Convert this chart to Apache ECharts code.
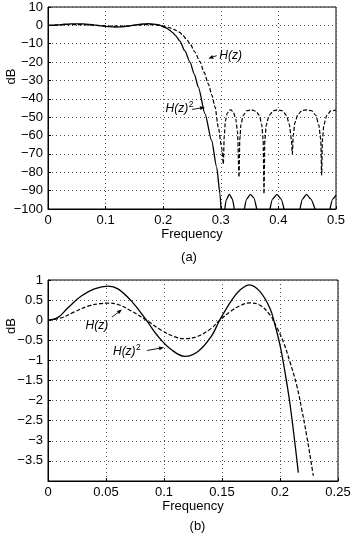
<!DOCTYPE html>
<html><head><meta charset="utf-8">
<script src="https://cdn.jsdelivr.net/npm/echarts@6/dist/echarts.min.js"></script>
<style>html,body{margin:0;padding:0;background:#fff}#c{width:355px;height:537px}</style>
</head><body><div id="c"></div>
<script>
// ---- Passband detail (panel b, also start of panel a) ----
const passFreqH  = [0, 0.0115, 0.023, 0.0345, 0.0445, 0.052, 0.0603, 0.0718, 0.0848, 0.0977, 0.109, 0.118, 0.1293, 0.1408, 0.148, 0.158, 0.1655, 0.1737, 0.1828, 0.1914, 0.1971, 0.2029, 0.2086, 0.2144, 0.2187, 0.223, 0.2264, 0.2287];
const passH      = [0, 0.06, 0.21, 0.35, 0.41, 0.425, 0.39, 0.23, 0, -0.25, -0.41, -0.46, -0.40, -0.20, 0, 0.23, 0.36, 0.43, 0.37, 0.13, -0.17, -0.54, -1.04, -1.62, -2.21, -2.87, -3.46, -3.87];
const passFreqH2 = [0, 0.0086, 0.0172, 0.0287, 0.040, 0.052, 0.0603, 0.0718, 0.0848, 0.0948, 0.1063, 0.118, 0.1293, 0.1408, 0.148, 0.158, 0.1655, 0.1737, 0.1828, 0.1914, 0.1957, 0.2, 0.2043, 0.208, 0.211, 0.2138, 0.2158];
const passH2     = [0, 0.07, 0.31, 0.60, 0.78, 0.85, 0.78, 0.48, 0, -0.40, -0.73, -0.90, -0.78, -0.40, 0, 0.48, 0.75, 0.88, 0.71, 0.29, -0.12, -0.62, -1.29, -1.96, -2.62, -3.29, -3.79];

// ---- Transition + stopband (panel a) ----
const stopFreqH = [0.234, 0.2405, 0.2465, 0.255, 0.2639, 0.271, 0.2783, 0.2845, 0.29, 0.2957, 0.3015, 0.3044,
  0.3060, 0.3080, 0.3110, 0.3150, 0.3180, 0.3220, 0.3260, 0.3290, 0.3316,
  0.3330, 0.3350, 0.3390, 0.3450, 0.3530, 0.3610, 0.3670, 0.3710, 0.3735, 0.3750,
  0.3765, 0.3790, 0.3840, 0.3910, 0.3990, 0.4070, 0.4140, 0.4190, 0.4225, 0.4242,
  0.4258, 0.4285, 0.4340, 0.4410, 0.4495, 0.4580, 0.4650, 0.4700, 0.4735, 0.4751,
  0.4765, 0.4790, 0.4840, 0.4910, 0.5];
const stopH = [-5.5, -7.6, -10, -14.5, -19.8, -25.5, -31.8, -38, -44.5, -55.5, -66.4, -75.5,
  -60, -52, -48, -46.2, -46, -47.5, -51, -58, -82.7,
  -62, -54, -49, -46.5, -46, -46.8, -49, -54, -62, -91.8,
  -62, -54, -49, -46.5, -46, -46.5, -49, -54, -62, -70,
  -60, -53, -48.5, -46.4, -46, -46.5, -49, -54, -62, -81.5,
  -62, -54, -49, -46.6, -46.2];
const stopFreqH2 = [0.2215, 0.229, 0.2375, 0.2465, 0.254, 0.261, 0.2726, 0.284, 0.2929, 0.2986, 0.3003, 0.304,
  0.307, 0.3095, 0.3148, 0.320, 0.3234, 0.33,
  0.341, 0.345, 0.3513, 0.357, 0.3623, 0.37,
  0.3854, 0.390, 0.3975, 0.4045, 0.4097, 0.42,
  0.4375, 0.442, 0.4488, 0.456, 0.4635, 0.47,
  0.4896, 0.4945, 0.5];
const stopH2 = [-5.6, -8.6, -13.8, -20, -26.5, -33.6, -48.2, -62.7, -77.3, -91.8, -100, null,
  -100, -95, -92, -94.5, -100, null,
  -100, -94.5, -92, -93.8, -100, null,
  -100, -94.5, -92, -94.5, -100, null,
  -100, -94.5, -92, -94.5, -100, null,
  -100, -94.5, -92.5];

// ---- Axis ticks ----
const ticksA_x = [0, 0.5, 0.1];   // min, max, interval
const ticksA_y = [-100, 10, 10];
const ticksB_x = [0, 0.25, 0.05];
const ticksB_y = [-4, 1, 0.5];

const FONT = '"Liberation Sans", Arial, Helvetica, sans-serif';
const zip = (xs, ys) => xs.map((x, i) => [x, ys[i]]);
const minus = v => (v < 0 ? '\u2212' + String(-v) : String(v));

const chart = echarts.init(document.getElementById('c'), null, {renderer: 'canvas'});

function xAx(gi, t) {
  return {
    gridIndex: gi, type: 'value', min: t[0], max: t[1], interval: t[2],
    name: 'Frequency', nameLocation: 'middle', nameGap: 19,
    nameTextStyle: {fontSize: 13, color: '#000', fontFamily: FONT},
    axisLine: {show: true, onZero: false, lineStyle: {color: '#000', width: 1}},
    axisTick: {show: true, inside: true, length: 3, lineStyle: {color: '#000'}},
    axisLabel: {fontSize: 13, color: '#000', margin: 5, fontFamily: FONT, formatter: v => minus(v)},
    splitLine: {show: true, lineStyle: {type: [1, 3], color: '#555', width: 1}}
  };
}
function yAx(gi, t, hideMin) {
  return {
    gridIndex: gi, type: 'value', min: t[0], max: t[1], interval: t[2],
    axisLine: {show: true, onZero: false, lineStyle: {color: '#000', width: 1}},
    axisTick: {show: true, inside: true, length: 3, lineStyle: {color: '#000'}},
    axisLabel: {fontSize: 13, color: '#000', margin: 5, fontFamily: FONT,
      formatter: v => (hideMin && v === t[0]) ? '' : minus(v)},
    splitLine: {show: true, lineStyle: {type: [1, 3], color: '#555', width: 1}}
  };
}
const solid = {color: '#000', width: 1.3, type: 'solid'};
const dashed = {color: '#000', width: 1.2, type: [4, 2]};

chart.setOption({
  animation: false,
  backgroundColor: '#fff',
  grid: [
    {left: 48, right: 19, top: 7, height: 202, show: true, borderColor: '#000', borderWidth: 1, backgroundColor: '#fff', outerBoundsMode: 'none'},
    {left: 48, right: 17, top: 280, height: 201, show: true, borderColor: '#000', borderWidth: 1, backgroundColor: '#fff', outerBoundsMode: 'none'}
  ],
  xAxis: [xAx(0, ticksA_x), xAx(1, ticksB_x)],
  yAxis: [yAx(0, ticksA_y, false), yAx(1, ticksB_y, true)],
  series: [
    {type: 'line', xAxisIndex: 0, yAxisIndex: 0, symbol: 'none', smooth: 0.25, smoothMonotone: 'x', clip: true,
      lineStyle: dashed, data: zip(passFreqH.concat(stopFreqH), passH.concat(stopH))},
    {type: 'line', xAxisIndex: 0, yAxisIndex: 0, symbol: 'none', smooth: 0.25, smoothMonotone: 'x', clip: true,
      lineStyle: solid, data: zip(passFreqH2.concat(stopFreqH2), passH2.concat(stopH2))},
    {type: 'line', xAxisIndex: 1, yAxisIndex: 1, symbol: 'none', smooth: 0.4, clip: true,
      lineStyle: dashed, data: zip(passFreqH, passH)},
    {type: 'line', xAxisIndex: 1, yAxisIndex: 1, symbol: 'none', smooth: 0.4, clip: true,
      lineStyle: solid, data: zip(passFreqH2, passH2)}
  ]
});

// ---- Annotations (data coordinates) ----
const labelsAt = [
  {g: 0, pos: [0.2974, -16.7], sup: false},
  {g: 0, pos: [0.204, -45.3], sup: true},
  {g: 1, pos: [0.0323, -0.144], sup: false},
  {g: 1, pos: [0.056, -0.791], sup: true}
];
const arrowsAt = [
  {g: 0, from: [0.2929, -16.5], to: [0.2783, -18]},
  {g: 0, from: [0.25, -45.8], to: [0.2726, -44.6]},
  {g: 1, from: [0.0552, 0.080], to: [0.0638, 0.266]},
  {g: 1, from: [0.0853, -0.754], to: [0.1, -0.679]}
];

const px = (g, p) => chart.convertToPixel({gridIndex: g}, p);
const cv = document.createElement('canvas').getContext('2d');
cv.font = 'italic 12px "Liberation Sans"';
const wH = cv.measureText('H(z)').width;

const gfx = [];
labelsAt.forEach(l => {
  const [x, y] = px(l.g, l.pos);
  gfx.push({type: 'text', x: x, y: y, silent: true,
    style: {text: 'H(z)', fontSize: 12, fontStyle: 'italic', fontFamily: FONT, fill: '#000',
      align: 'left', verticalAlign: 'middle', textAlign: 'left', textVerticalAlign: 'middle'}});
  if (l.sup) {
    gfx.push({type: 'text', x: x + wH + 0.5, y: y - 4, silent: true,
      style: {text: '2', fontSize: 8.5, fontFamily: FONT, fill: '#000',
        align: 'left', verticalAlign: 'middle', textAlign: 'left', textVerticalAlign: 'middle'}});
  }
});
arrowsAt.forEach(a => {
  const [x1, y1] = px(a.g, a.from);
  const [x2, y2] = px(a.g, a.to);
  const dx = x2 - x1, dy = y2 - y1, L = Math.hypot(dx, dy);
  const ux = dx / L, uy = dy / L, hl = 5, hw = 2;
  const bx = x2 - ux * hl, by = y2 - uy * hl;
  gfx.push({type: 'line', silent: true, shape: {x1: x1, y1: y1, x2: bx, y2: by},
    style: {stroke: '#000', lineWidth: 0.9}});
  gfx.push({type: 'polygon', silent: true,
    shape: {points: [[x2, y2], [bx - uy * hw, by + ux * hw], [bx + uy * hw, by - ux * hw]]},
    style: {fill: '#000'}});
});
const plain = (text, x, y, rot) => ({type: 'text', x: x, y: y, rotation: rot || 0, silent: true,
  style: {text: text, fontSize: 13, fontFamily: FONT, fill: '#000',
    align: 'center', verticalAlign: 'middle', textAlign: 'center', textVerticalAlign: 'middle'}});
gfx.push(plain('dB', 11, 76.5, Math.PI / 2));
gfx.push(plain('dB', 11, 326, Math.PI / 2));
gfx.push(plain('(a)', 189, 257.5));
gfx.push(plain('(b)', 197.5, 526));

chart.setOption({graphic: {elements: gfx}});
</script>
</body></html>
